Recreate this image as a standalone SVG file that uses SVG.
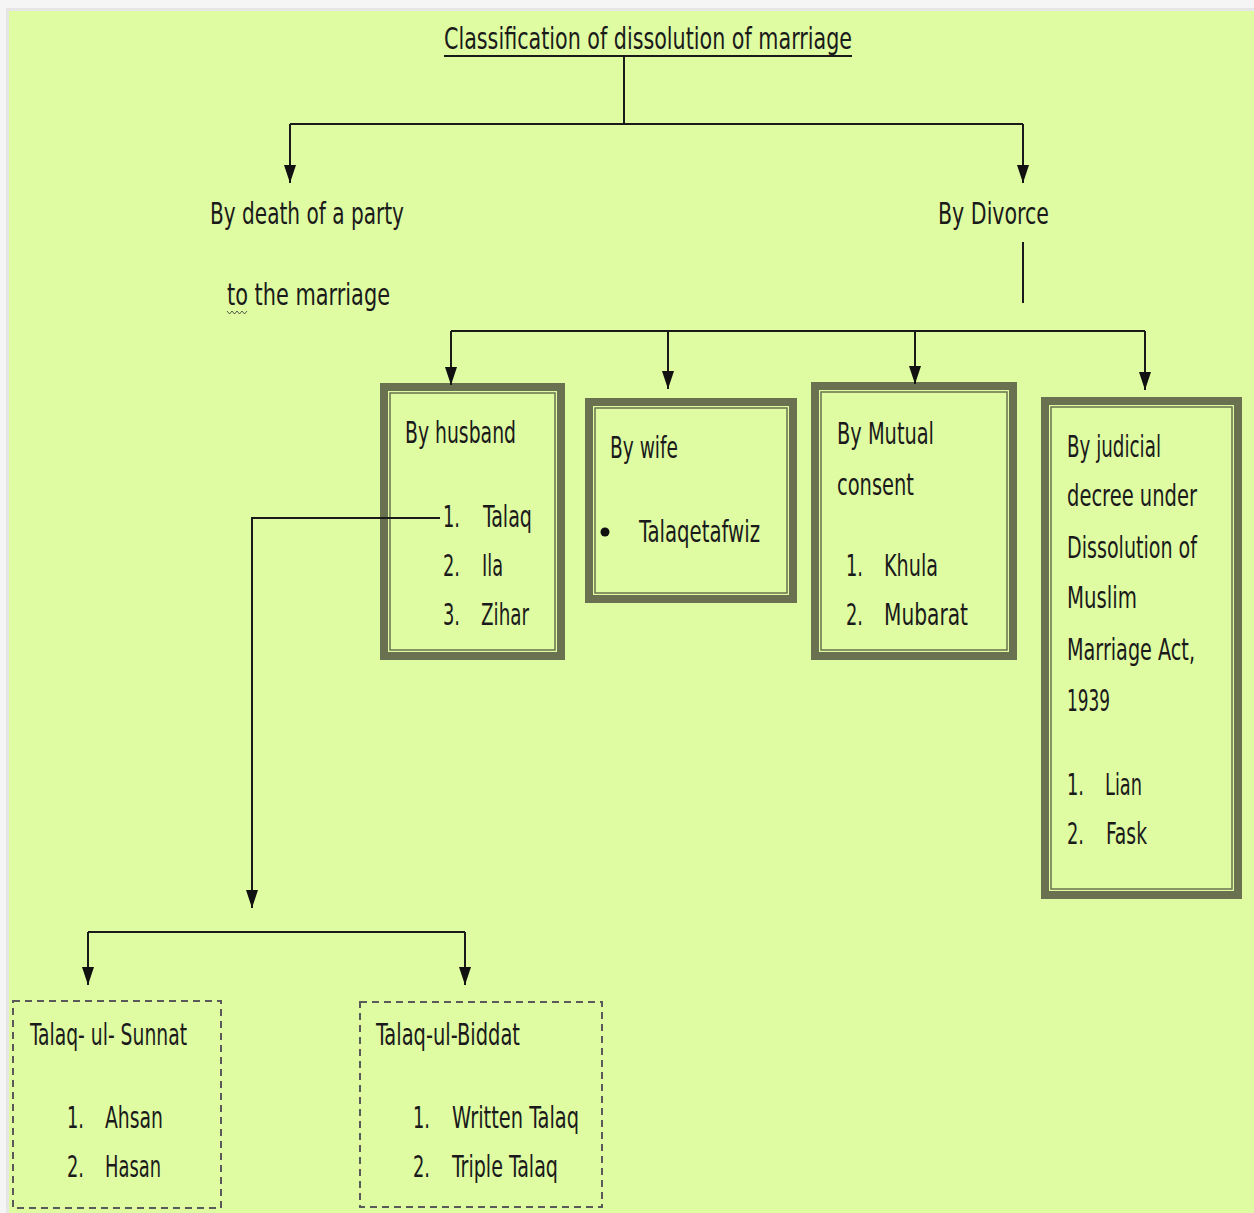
<svg xmlns="http://www.w3.org/2000/svg" width="1254" height="1213" viewBox="0 0 1254 1213">
<defs>
<marker id="arr" viewBox="0 0 18 12" refX="18" refY="6" markerWidth="18" markerHeight="12" markerUnits="userSpaceOnUse" orient="auto">
<path d="M0,0 L18,6 L0,12 z" fill="#111"/>
</marker>
<style>
text{font-family:"Liberation Sans Narrow","DejaVu Sans Condensed","Liberation Sans",sans-serif;font-size:30px;fill:#1a1a1a}
.ln{fill:none;stroke:#1a1a1a;stroke-width:2}
.ar{fill:none;stroke:#1a1a1a;stroke-width:2;marker-end:url(#arr)}
.ob{fill:none;stroke:#6a7150;stroke-width:8}
.ib{fill:none;stroke:#6a7150;stroke-width:1.5}
.db{fill:none;stroke:#5a5a5a;stroke-width:2;stroke-dasharray:7 5}
</style>
</defs>
<rect x="0" y="0" width="1254" height="1213" fill="#f5f5f5"/>
<rect x="6" y="8" width="1248" height="1205" fill="#e6e6e6"/>
<rect x="9" y="11" width="1245" height="1202" fill="#dffca3"/>

<g id="title">
<text x="444" y="49" textLength="408" lengthAdjust="spacingAndGlyphs">Classification of dissolution of marriage</text>
<line x1="444" y1="56" x2="852" y2="56" stroke="#1a1a1a" stroke-width="2"/>
</g>

<g id="death">
<text x="210" y="224" textLength="194" lengthAdjust="spacingAndGlyphs">By death of a party</text>
<text x="227" y="305" textLength="163" lengthAdjust="spacingAndGlyphs">to the marriage</text>
<path d="M227,311 l2.5,3 l2.5,-3 l2.5,3 l2.5,-3 l2.5,3 l2.5,-3 l2.5,3 l2.5,-3" fill="none" stroke="#333" stroke-width="0.8"/>
</g>

<g id="divorce">
<text x="938" y="224" textLength="111" lengthAdjust="spacingAndGlyphs">By Divorce</text>
</g>

<g id="husband">
<rect class="ob" x="384" y="387" width="177" height="269"/>
<rect class="ib" x="390" y="393" width="165" height="257"/>
<text x="405" y="443" textLength="111" lengthAdjust="spacingAndGlyphs">By husband</text>
<text x="443" y="527" textLength="17" lengthAdjust="spacingAndGlyphs">1.</text>
<text x="483" y="527" textLength="49" lengthAdjust="spacingAndGlyphs">Talaq</text>
<text x="443" y="576" textLength="17" lengthAdjust="spacingAndGlyphs">2.</text>
<text x="482" y="576" textLength="21" lengthAdjust="spacingAndGlyphs">Ila</text>
<text x="443" y="625" textLength="17" lengthAdjust="spacingAndGlyphs">3.</text>
<text x="481" y="625" textLength="48" lengthAdjust="spacingAndGlyphs">Zihar</text>
</g>

<g id="wife">
<rect class="ob" x="589" y="402" width="204" height="197"/>
<rect class="ib" x="595" y="408" width="192" height="185"/>
<text x="610" y="458" textLength="68" lengthAdjust="spacingAndGlyphs">By wife</text>
<circle cx="605" cy="532" r="4.5" fill="#111"/>
<text x="639" y="542" textLength="121" lengthAdjust="spacingAndGlyphs">Talaqetafwiz</text>
</g>

<g id="mutual">
<rect class="ob" x="815" y="386" width="198" height="270"/>
<rect class="ib" x="821" y="392" width="186" height="258"/>
<text x="837" y="444" textLength="97" lengthAdjust="spacingAndGlyphs">By Mutual</text>
<text x="837" y="495" textLength="77" lengthAdjust="spacingAndGlyphs">consent</text>
<text x="846" y="576" textLength="17" lengthAdjust="spacingAndGlyphs">1.</text>
<text x="884" y="576" textLength="54" lengthAdjust="spacingAndGlyphs">Khula</text>
<text x="846" y="625" textLength="17" lengthAdjust="spacingAndGlyphs">2.</text>
<text x="884" y="625" textLength="84" lengthAdjust="spacingAndGlyphs">Mubarat</text>
</g>

<g id="judicial">
<rect class="ob" x="1045" y="401" width="193" height="494"/>
<rect class="ib" x="1051" y="407" width="181" height="482"/>
<text x="1067" y="457" textLength="94" lengthAdjust="spacingAndGlyphs">By judicial</text>
<text x="1067" y="506" textLength="130" lengthAdjust="spacingAndGlyphs">decree under</text>
<text x="1067" y="558" textLength="130" lengthAdjust="spacingAndGlyphs">Dissolution of</text>
<text x="1067" y="608" textLength="70" lengthAdjust="spacingAndGlyphs">Muslim</text>
<text x="1067" y="660" textLength="128" lengthAdjust="spacingAndGlyphs">Marriage Act,</text>
<text x="1067" y="711" textLength="43" lengthAdjust="spacingAndGlyphs">1939</text>
<text x="1067" y="795" textLength="17" lengthAdjust="spacingAndGlyphs">1.</text>
<text x="1105" y="795" textLength="37" lengthAdjust="spacingAndGlyphs">Lian</text>
<text x="1067" y="844" textLength="17" lengthAdjust="spacingAndGlyphs">2.</text>
<text x="1106" y="844" textLength="41" lengthAdjust="spacingAndGlyphs">Fask</text>
</g>

<g id="sunnat">
<rect class="db" x="13" y="1001" width="208" height="207"/>
<text x="30" y="1045" textLength="157" lengthAdjust="spacingAndGlyphs">Talaq- ul- Sunnat</text>
<text x="67" y="1128" textLength="17" lengthAdjust="spacingAndGlyphs">1.</text>
<text x="105" y="1128" textLength="58" lengthAdjust="spacingAndGlyphs">Ahsan</text>
<text x="67" y="1177" textLength="17" lengthAdjust="spacingAndGlyphs">2.</text>
<text x="105" y="1177" textLength="56" lengthAdjust="spacingAndGlyphs">Hasan</text>
</g>

<g id="biddat">
<rect class="db" x="360" y="1002" width="242" height="205"/>
<text x="376" y="1045" textLength="144" lengthAdjust="spacingAndGlyphs">Talaq-ul-Biddat</text>
<text x="413" y="1128" textLength="17" lengthAdjust="spacingAndGlyphs">1.</text>
<text x="452" y="1128" textLength="127" lengthAdjust="spacingAndGlyphs">Written Talaq</text>
<text x="413" y="1177" textLength="17" lengthAdjust="spacingAndGlyphs">2.</text>
<text x="452" y="1177" textLength="106" lengthAdjust="spacingAndGlyphs">Triple Talaq</text>
</g>

<g id="connectors">
<path class="ln" d="M624,57 V124"/>
<path class="ln" d="M290,124 H1023"/>
<path class="ar" d="M290,124 V183"/>
<path class="ar" d="M1023,124 V183"/>
<path class="ln" d="M1023,242 V303"/>
<path class="ln" d="M451,331 H1145"/>
<path class="ar" d="M451,331 V385"/>
<path class="ar" d="M668,331 V389"/>
<path class="ar" d="M915,331 V384"/>
<path class="ar" d="M1145,331 V390"/>
<path class="ar" d="M440,518 H252 V908"/>
<path class="ln" d="M88,932 H465"/>
<path class="ar" d="M88,932 V985"/>
<path class="ar" d="M465,932 V985"/>
</g>
</svg>
